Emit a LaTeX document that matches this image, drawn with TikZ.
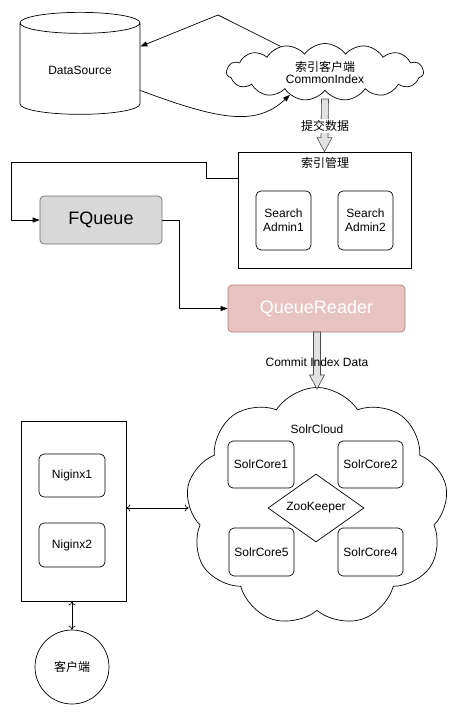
\documentclass[tikz,border=0pt]{standalone}
\usepackage{fontspec}
\setmainfont{Liberation Sans}
\newfontfamily\cjk{Noto Sans CJK SC}
\usetikzlibrary{shapes.geometric, shapes.symbols, calc, arrows.meta}
\definecolor{fqfill}{HTML}{D8D8D8}
\definecolor{fqline}{HTML}{6E6E6E}
\definecolor{qrfill}{HTML}{E7C3C2}
\definecolor{qrline}{HTML}{B47B7A}
\definecolor{fatfill}{HTML}{E2E2E2}
\tikzset{
  box/.style={draw, align=center, inner sep=0pt},
  corebox/.style={box, rounded corners=5pt},
  conn/.style={-{Triangle[length=7pt,width=5pt]}},
  both/.style={{To[length=4pt,width=7pt]}-{To[length=4pt,width=7pt]}},
  fat/.style={draw=black!70, fill=fatfill, line width=0.6pt},
  bigfont/.style={font=\fontsize{18}{20}\selectfont}
}
% hollow arrow from #1 (top) down to #2 (tip)
\newcommand{\hollowarrow}[2]{%
  \draw[fat] ($(#1)+(-3.5,0)$) -- ($(#2)+(-3.5,-14)$) -- ($(#2)+(-7.5,-14)$)
    -- (#2) -- ($(#2)+(7.5,-14)$) -- ($(#2)+(3.5,-14)$) -- ($(#1)+(3.5,0)$) -- cycle;}

\begin{document}
\begin{tikzpicture}[x=1pt,y=-1pt,line width=0.7pt,every node/.style={font=\fontsize{12}{14}\selectfont}]
  \useasboundingbox (0,0) rectangle (475,716);
  % top part
  \node[draw, shape=cylinder, shape border rotate=90, aspect=0.3,
    minimum width=120pt, minimum height=102pt] (ds) at (80,70.5) {DataSource};
  \node[draw, shape=cloud, cloud puffs=15, cloud puff arc=110, aspect=3.4, align=center,
    inner sep=0pt, minimum width=197pt, minimum height=57pt] (ci) at (325,72)
    {{\cjk 索引客户端}\\[-2pt]CommonIndex};
  \draw[conn] (ci.150) -- (218,15) -- ([yshift=24pt]ds.east);
  \draw[conn] ([yshift=-20pt]ds.east) .. controls (215,118) and (255,128) .. (ci.213);

  \node[box, minimum width=173pt, minimum height=116pt] (mgr) at (324.5,210) {};
  \node (mgrlabel) at (325,163) {\cjk 索引管理};
  \node[corebox, minimum width=55pt, minimum height=59pt] (sa1) at (283.5,220.5) {Search\\Admin1};
  \node[corebox, minimum width=55pt, minimum height=59pt] (sa2) at (365.5,220.5) {Search\\Admin2};
  \coordinate (citip) at (325,99);
  \hollowarrow{citip}{mgr.north}
  \node[fill=white, inner sep=1pt] (submit) at (325,126) {\cjk 提交数据};

  % queue
  \node[box, bigfont, rounded corners=4pt, fill=fqfill, draw=fqline,
    minimum width=122pt, minimum height=48pt] (fq) at (101,220) {FQueue};
  \node[box, bigfont, rounded corners=4pt, fill=qrfill, draw=qrline, text=white,
    minimum width=177pt, minimum height=47pt] (qr) at (316.5,308.5) {QueueReader};
  \draw[conn] ([yshift=32pt]mgr.west) -- ++(-31,0) -- ++(0,-16) -| ([xshift=-28pt]fq.west) -- (fq.west);
  \draw[conn] (fq.east) -- ++(17,0) |- (qr.west);

  % solr cloud
  \node[draw, shape=cloud, cloud puffs=9, cloud puff arc=115, aspect=1.1,
    minimum width=262pt, minimum height=239pt] (solrcloud) at (317,507) {};
  \node (cloudlabel) at (317,429) {SolrCloud};
  \coordinate (qrbottom) at (317,332);
  \coordinate (cloudtop) at (317,389);
  \hollowarrow{qrbottom}{cloudtop}
  \node (commit) at (317,362) {Commit Index Data};
  \node[corebox, minimum width=66pt, minimum height=47pt] (core1) at (261,464.5) {SolrCore1};
  \node[corebox, minimum width=65pt, minimum height=47pt] (core2) at (370.5,464.5) {SolrCore2};
  \node[corebox, minimum width=65pt, minimum height=48pt] (core5) at (261.5,552) {SolrCore5};
  \node[corebox, minimum width=65pt, minimum height=48pt] (core4) at (370.5,552) {SolrCore4};
  \node[draw, shape=diamond, aspect=1.4, inner sep=0pt,
    minimum width=96pt, minimum height=68pt] (zk) at (316,508) {ZooKeeper};

  % nginx + client
  \node[box, minimum width=105pt, minimum height=180pt] (ngx) at (73.5,511) {};
  \node[corebox, minimum width=66pt, minimum height=43pt] (n1) at (72,475.5) {Niginx1};
  \node[corebox, minimum width=66pt, minimum height=44pt] (n2) at (72,545) {Niginx2};
  \node[draw, circle, minimum size=74pt] (client) at (72,667) {\cjk 客户端};
  \draw[both] ([yshift=3pt]ngx.east) -- ([yshift=3pt]ngx.east -| solrcloud.west);
  \draw[both] ([xshift=-1.5pt]ngx.south) -- ([xshift=-1.5pt]ngx.south |- client.north);
\end{tikzpicture}
\end{document}
